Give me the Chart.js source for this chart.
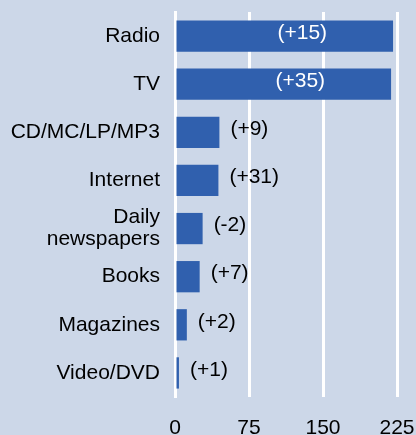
<!DOCTYPE html>
<html>
<head>
<meta charset="utf-8">
<script src="https://cdn.jsdelivr.net/npm/chart.js@4"></script>
<style>
  html, body { margin: 0; padding: 0; background: #ccd7e8; }
  #wrap { width: 416px; height: 435px; position: relative; }
</style>
</head>
<body>
<div id="wrap"><canvas id="c"></canvas></div>
<script>
const categories = ['Radio', 'TV', 'CD/MC/LP/MP3', 'Internet', ['Daily', 'newspapers'], 'Books', 'Magazines', 'Video/DVD'];
const values = [221, 219, 45, 44, 28, 25, 12, 4];
const changes = [15, 35, 9, 31, -2, 7, 2, 1];
const xTicks = [0, 75, 150, 225];

const FONT = "'Liberation Sans', Arial, sans-serif";

const labelPlugin = {
  id: 'changeLabels',
  afterDatasetsDraw(chart) {
    const ctx = chart.ctx;
    const meta = chart.getDatasetMeta(0);
    ctx.save();
    ctx.font = '21px ' + FONT;
    ctx.textBaseline = 'middle';
    meta.data.forEach((bar, i) => {
      const c = changes[i];
      const txt = '(' + (c > 0 ? '+' : '') + c + ')';
      const w = ctx.measureText(txt).width;
      const barLen = bar.x - bar.base;
      const y = bar.y - 3;
      if (barLen > w + 100) {
        ctx.fillStyle = '#ffffff';
        ctx.textAlign = 'right';
        ctx.fillText(txt, bar.x - 66, y);
      } else {
        ctx.fillStyle = '#000000';
        ctx.textAlign = 'left';
        ctx.fillText(txt, bar.x + 11, y);
      }
    });
    ctx.restore();
  }
};

new Chart(document.getElementById('c'), {
  type: 'bar',
  data: {
    labels: categories,
    datasets: [{
      data: values,
      backgroundColor: '#3060ae',
      borderWidth: 0,
      categoryPercentage: 1.0,
      barPercentage: 0.65
    }]
  },
  options: {
    indexAxis: 'y',
    responsive: true,
    maintainAspectRatio: false,
    animation: false,
    layout: { padding: { top: 12, right: 19, bottom: 0, left: 0 } },
    plugins: { legend: { display: false }, tooltip: { enabled: false } },
    scales: {
      x: {
        min: 0,
        max: 225,
        afterBuildTicks(axis) { axis.ticks = xTicks.map(v => ({ value: v })); },
        grid: { color: '#ffffff', lineWidth: 3, drawTicks: false },
        border: { display: false },
        ticks: { color: '#000', font: { family: FONT, size: 21 }, padding: 19, maxRotation: 0, autoSkip: false },
        afterFit(axis) { axis.height = 38; axis.paddingLeft = 0; axis.paddingRight = 0; }
      },
      y: {
        grid: { display: false, drawTicks: false },
        border: { display: true, color: '#ffffff', width: 3 },
        ticks: { color: '#000', font: { family: FONT, size: 21, lineHeight: 1.05 }, padding: 15, autoSkip: false },
        afterFit(axis) { axis.width = 175; axis.paddingTop = 0; axis.paddingBottom = 0; }
      }
    }
  },
  plugins: [labelPlugin]
});
</script>
</body>
</html>
